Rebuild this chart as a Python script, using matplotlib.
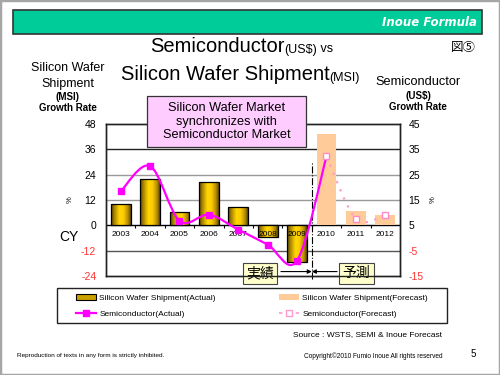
import numpy as np
import matplotlib
matplotlib.use("Agg")
import matplotlib.pyplot as plt
from matplotlib.patches import Rectangle, Patch, PathPatch
from matplotlib.path import Path
from matplotlib.lines import Line2D
from matplotlib.colors import LinearSegmentedColormap
from matplotlib.offsetbox import TextArea, HPacker, AnnotationBbox

# ---------------- data ----------------
years = ["2003", "2004", "2005", "2006", "2007", "2008", "2009", "2010", "2011", "2012"]
wafer_actual = [10.0, 22.0, 6.2, 20.5, 8.7, -5.7, -17.4]          # 2003-2009 (left axis, %)
wafer_forecast = [43.4, 7.0, 4.7]                                  # 2010-2012
semi_actual = [18.4, 28.4, 6.8, 9.2, 3.3, -2.6, -8.9]              # 2003-2009 (right axis, %)
semi_forecast = [32.2, 7.6, 9.2]                                   # 2010-2012
left_ticks = [-24, -12, 0, 12, 24, 36, 48]
right_ticks = [-15, -5, 5, 15, 25, 35, 45]

FONT = "Liberation Sans"
CJK = ["Noto Sans CJK JP", "DejaVu Sans"]
plt.rcParams['font.family'] = [FONT, "DejaVu Sans"]

W, H = 500, 375
fig = plt.figure(figsize=(5, 3.75), dpi=100)
fx = lambda px: px / W
fy = lambda py: 1 - py / H

# slide border
fig.patches.append(Rectangle((0, 0), 1, 1, transform=fig.transFigure, fill=False,
                             edgecolor="#A6A6A6", lw=2.5))
# header bar
fig.patches.append(Rectangle((fx(13), fy(34)), fx(482) - fx(13), fy(10) - fy(34),
                             transform=fig.transFigure, facecolor="#00CC99",
                             edgecolor="#333333", lw=1.2))
fig.text(fx(477), fy(22.5), "Inoue Formula", color="white", fontsize=8.5,
         fontweight="bold", fontstyle="italic", family="DejaVu Sans",
         ha="right", va="center")

# ---------------- axes ----------------
ax = fig.add_axes([fx(106), fy(276), fx(400) - fx(106), fy(124) - fy(276)])
ax2 = ax.twinx()
n = len(years)
x = np.arange(n)
ax.set_xlim(-0.5, n - 0.5)
ax.set_ylim(left_ticks[0], left_ticks[-1])
ax2.set_ylim(right_ticks[0], right_ticks[-1])

# gridlines
grid_cols = {36: "#222222", 24: "#9A9A9A", 12: "#9A9A9A", -12: "#555555", 0: "#000000"}
for yv, c in grid_cols.items():
    ax.axhline(yv, color=c, lw=1.0, zorder=1)
# category tick marks on zero line
ax.vlines(np.arange(0.5, n - 1), -1.3, 0, color="black", lw=0.8, zorder=1)

# gold gradient for actual bars
gold = LinearSegmentedColormap.from_list("gold", [
    (0.0, "#5E4600"), (0.18, "#B08A00"), (0.42, "#FFD700"),
    (0.62, "#FFCC00"), (0.85, "#B89000"), (1.0, "#5E4600")])
grad = np.linspace(0, 1, 64).reshape(1, -1)
bw = 0.68
xa = x[:len(wafer_actual)]
bars = ax.bar(xa, wafer_actual, width=bw, facecolor="none", edgecolor="black",
              lw=0.9, zorder=3)
for b, xi, v in zip(bars, xa, wafer_actual):
    im = ax.imshow(grad, extent=[xi - bw / 2, xi + bw / 2, min(0, v), max(0, v)],
                   aspect="auto", cmap=gold, zorder=2.5, interpolation="bilinear")
    im.set_clip_path(b)
xf = x[len(wafer_actual):]
ax.bar(xf, wafer_forecast, width=bw, color="#FFCC99", edgecolor="none", zorder=2.5)
ax.set_xlim(-0.5, n - 0.5)
ax.set_ylim(left_ticks[0], left_ticks[-1])

# year labels inside plot
for xi, lab in zip(x, years):
    ax.text(xi, -4.2, lab, ha="center", va="center", fontsize=6, zorder=6)

# ticks
ax.set_xticks([])
ax.set_yticks(left_ticks)
ax.set_yticklabels([str(t) for t in left_ticks], fontsize=7.5)
for t, lab in zip(left_ticks, ax.get_yticklabels()):
    lab.set_color("#FF3333" if t < 0 else "black")
ax.tick_params(axis="y", length=0, pad=7)
ax2.set_yticks(right_ticks)
ax2.set_yticklabels([str(t) for t in right_ticks], fontsize=7.5)
for t, lab in zip(right_ticks, ax2.get_yticklabels()):
    lab.set_color("#FF3333" if t < 0 else "black")
ax2.tick_params(axis="y", length=0, pad=6)
for a in (ax, ax2):
    for s in a.spines.values():
        s.set_linewidth(1.0)
        s.set_color("#222222")


# smoothed lines (Catmull-Rom Bezier in data space)
def smooth_path(xs, ys):
    P = np.column_stack([xs, ys]).astype(float)
    Q = np.vstack([P[0], P, P[-1]])
    verts = [P[0]]
    codes = [Path.MOVETO]
    for i in range(len(P) - 1):
        p0, p1, p2, p3 = Q[i], Q[i + 1], Q[i + 2], Q[i + 3]
        verts += [p1 + (p2 - p0) / 6, p2 - (p3 - p1) / 6, p2]
        codes += [Path.CURVE4] * 3
    return Path(verts, codes)


na = len(semi_actual)
xs_solid = list(x[:na + 1])
ys_solid = semi_actual + [semi_forecast[0]]
ax2.add_patch(PathPatch(smooth_path(xs_solid, ys_solid), fill=False,
                        edgecolor="#FF00FF", lw=1.6, zorder=5))
ax2.add_patch(PathPatch(smooth_path(list(x[na:]), semi_forecast), fill=False,
                        edgecolor="#FF99CC", lw=1.6, linestyle=(0, (1, 3)), zorder=5))
ax2.plot(x[:na], semi_actual, ls="none", marker="s", ms=5, color="#FF00FF", zorder=6)
ax2.plot(x[na:], semi_forecast, ls="none", marker="s", ms=5, mfc="white",
         mec="#FF88CC", mew=1.0, zorder=6)
ax2.set_ylim(right_ticks[0], right_ticks[-1])

# divider and actual / forecast labels
ax.plot([6.5, 6.5], [-25.5, 30.0], color="black", lw=0.8, ls="-.", clip_on=False, zorder=6)
ax.annotate("", xy=(6.5, -21.9), xytext=(5.45, -21.9),
            arrowprops=dict(arrowstyle="-|>", color="black", lw=0.8,
                            mutation_scale=6, shrinkA=0, shrinkB=0), zorder=6)
ax.annotate("", xy=(6.5, -21.9), xytext=(7.36, -21.9),
            arrowprops=dict(arrowstyle="-|>", color="black", lw=0.8,
                            mutation_scale=6, shrinkA=0, shrinkB=0), zorder=6)
for xc, lab in [(4.74, "実績"), (8.02, "予測")]:
    ax.text(xc, -22.6, lab, ha="center", va="center", fontsize=10, family=CJK,
            zorder=7, clip_on=False,
            bbox=dict(boxstyle="square,pad=0.25", facecolor="#FFFFCC",
                      edgecolor="#444444", lw=0.8))

# ---------------- titles ----------------
def rich_line(parts, px, py):
    areas = [TextArea(t, textprops=dict(fontsize=s, family=FONT, color="black")) for t, s in parts]
    box = HPacker(children=areas, align="baseline", pad=0, sep=0)
    ab = AnnotationBbox(box, (fx(px), fy(py)), xycoords="figure fraction",
                        box_alignment=(0, 0.5), frameon=False, pad=0)
    fig.add_artist(ab)


rich_line([("Semiconductor", 14.5), ("(US$)", 9), (" vs", 9)], 150, 47)
rich_line([("Silicon Wafer Shipment", 14.5), ("(MSI)", 9)], 121, 75)
fig.text(fx(451), fy(48), "図⑤", fontsize=9, family=CJK, ha="left", va="center")

# axis titles
fig.text(fx(68), fy(68), "Silicon Wafer", fontsize=9, ha="center", va="center")
fig.text(fx(68), fy(84), "Shipment", fontsize=9, ha="center", va="center")
fig.text(fx(68), fy(97), "(MSI)", fontsize=7, fontweight="bold", ha="center", va="center")
fig.text(fx(68), fy(108), "Growth Rate", fontsize=7, fontweight="bold", ha="center", va="center")
fig.text(fx(418), fy(82), "Semiconductor", fontsize=9.2, ha="center", va="center")
fig.text(fx(418), fy(96), "(US$)", fontsize=7, fontweight="bold", ha="center", va="center")
fig.text(fx(418), fy(106.5), "Growth Rate", fontsize=7, fontweight="bold", ha="center", va="center")
fig.text(fx(70), fy(200), "%", fontsize=5.5, rotation=90, ha="center", va="center")
fig.text(fx(433), fy(200), "%", fontsize=5.5, rotation=90, ha="center", va="center")
fig.text(fx(69), fy(237), "CY", fontsize=10, ha="center", va="center")

# annotation box
fig.add_artist(Rectangle((fx(147), fy(147)), fx(306) - fx(147), fy(96) - fy(147),
                         transform=fig.transFigure, facecolor="#FFCCFF",
                         edgecolor="#333333", lw=0.9, zorder=9))
fig.text(fx(226.5), fy(121.5), "Silicon Wafer Market\nsynchronizes with\nSemiconductor Market",
         fontsize=9.2, ha="center", va="center", linespacing=1.2, zorder=10)

# ---------------- legend ----------------
fig.patches.append(Rectangle((fx(57), fy(323)), fx(447) - fx(57), fy(288) - fy(323),
                             transform=fig.transFigure, fill=False,
                             edgecolor="#222222", lw=1.0))
handles = [
    Patch(facecolor="#C9A000", edgecolor="black", lw=0.8),
    Line2D([], [], color="#FF00FF", lw=1.6, marker="s", ms=4.5),
    Patch(facecolor="#FFCC99", edgecolor="none"),
    Line2D([], [], color="#FF99CC", lw=1.2, ls=(0, (2, 3)), marker="s", ms=4.5,
           mfc="white", mec="#FF99CC"),
]
labels = ["Silicon Wafer Shipment(Actual)", "Semiconductor(Actual)",
          "Silicon Wafer Shipment(Forecast)", "Semiconductor(Forecast)"]
fig.legend(handles, labels, ncol=2, loc="center", bbox_to_anchor=(fx(252), fy(306)),
           frameon=False, fontsize=6, handlelength=2.4, handleheight=0.6,
           handletextpad=0.4, columnspacing=7.6, labelspacing=1.0, borderpad=0)

# ---------------- footer ----------------
fig.text(fx(442), fy(335), "Source : WSTS, SEMI & Inoue Forecast", fontsize=6,
         ha="right", va="center")
fig.text(fx(17), fy(356), "Reproduction of texts in any form is strictly inhibited.",
         fontsize=4.6, ha="left", va="center")
fig.text(fx(443), fy(356.5), "Copyright©2010 Fumio Inoue All rights reserved",
         fontsize=4.7, ha="right", va="center")
fig.text(fx(473), fy(354), "5", fontsize=7, ha="center", va="center")

fig.savefig("out.png", dpi=100)
